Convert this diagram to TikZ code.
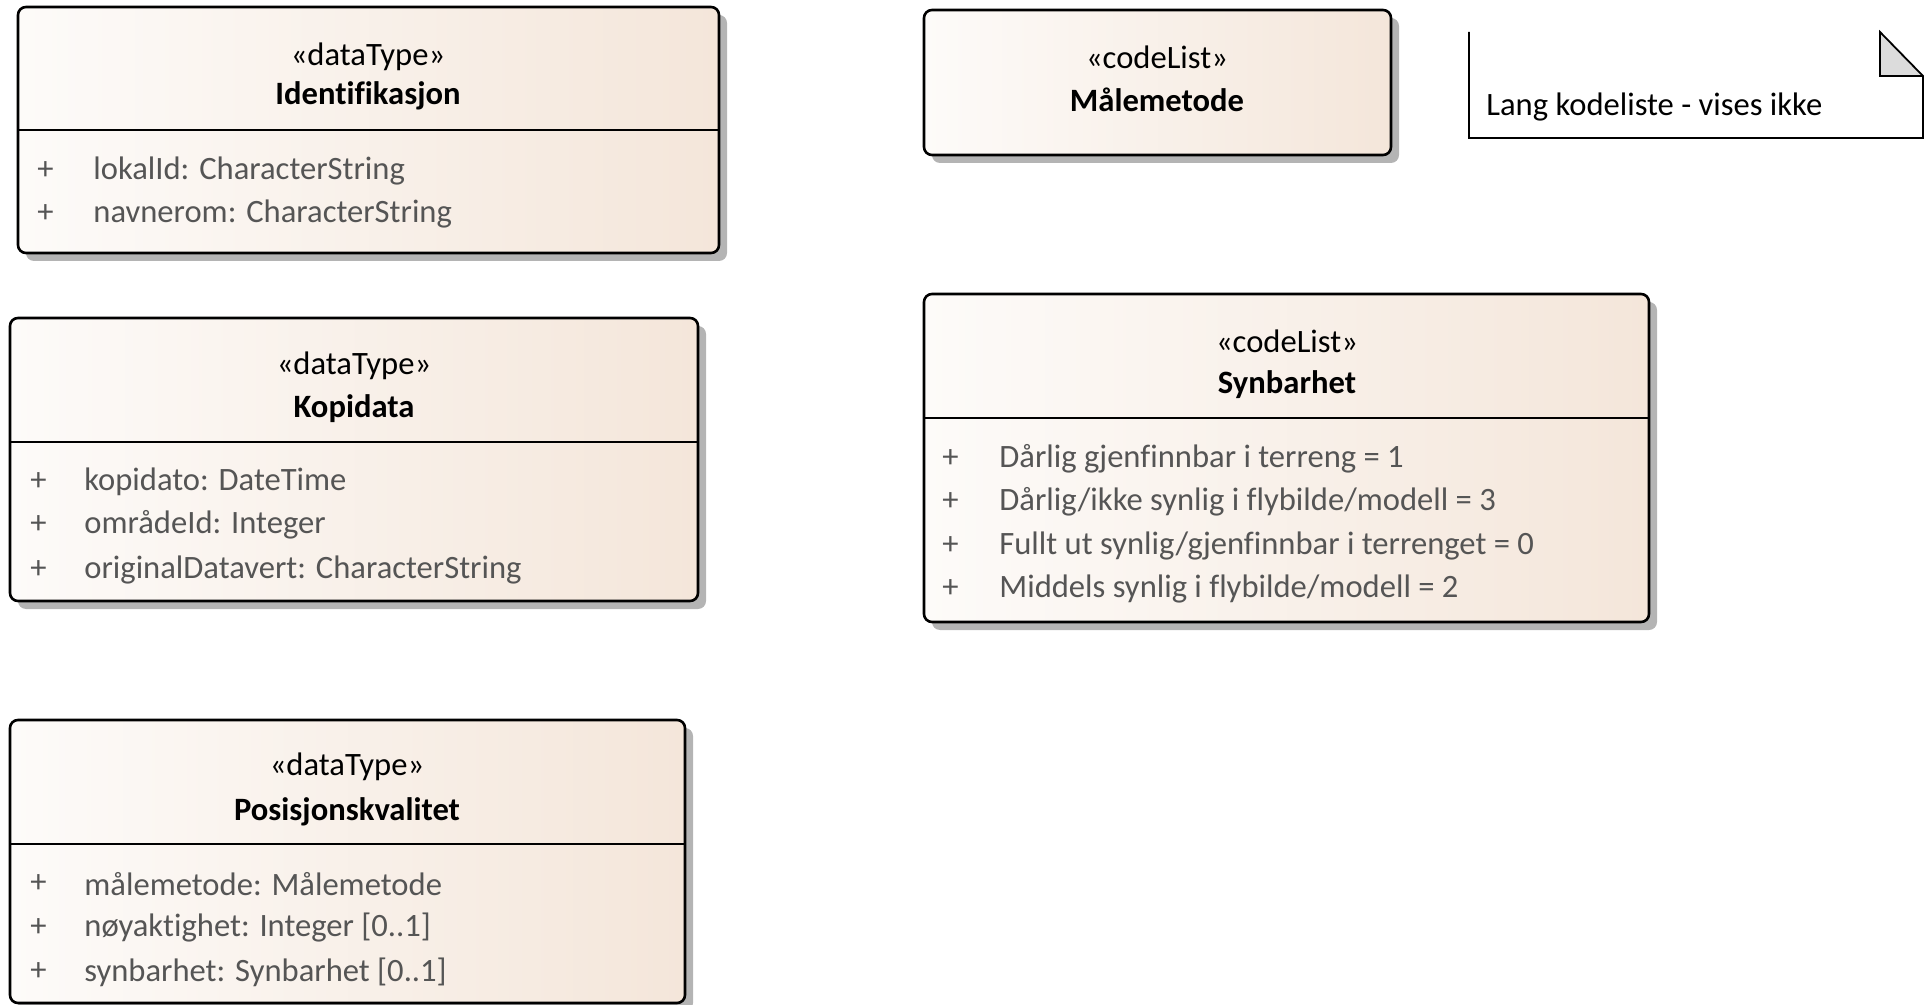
\documentclass[tikz,border=0pt]{standalone}
\usepackage{fontspec}
\setmainfont{Carlito}[Ligatures=CommonOff]
\usetikzlibrary{positioning}
\definecolor{boxleft}{HTML}{FDFBF9}
\definecolor{boxright}{HTML}{F4E6DA}
\definecolor{attrgray}{HTML}{555555}
\definecolor{shadowgray}{HTML}{B4B4B4}
\definecolor{foldgray}{HTML}{DCDCDC}
\tikzset{
	umlbox/.style={draw=black, line width=1.3pt, rounded corners=4pt,
			left color=boxleft, right color=boxright},
	umlshadow/.style={fill=shadowgray, draw=none, rounded corners=4pt},
	divider/.style={draw=black, line width=1.3pt},
	stereo/.style={font=\fontsize{16.3}{19}\selectfont, inner sep=0pt, yshift=-1.5pt},
	classname/.style={font=\fontsize{16.3}{19}\selectfont\bfseries, inner sep=0pt, yshift=-1.5pt},
	attr/.style={anchor=west, font=\fontsize{16.3}{19}\selectfont, text=attrgray, inner sep=0pt, yshift=-1.5pt},
	notebox/.style={draw=black, line width=0.9pt},
}

\begin{document}
\begin{tikzpicture}[x=0.5pt, y=-0.5pt]
		\useasboundingbox (0,0) rectangle (1927,1005);

		% Identifikasjon
		\fill[umlshadow] (26,15) rectangle (727,261);
		\draw[umlbox] (18,7) rectangle (719,253);
		\draw[divider] (18,130) -- (719,130);
		\node[stereo] (identStereo) at (368,54) {«dataType»};
		\node[classname] (identName) at (368,93) {Identifikasjon};
		\node[attr] (identPlusA) at (37,168) {+};
		\node[attr] (identAttrA) at (93,168) {lokalId: CharacterString};
		\node[attr] (identPlusB) at (37,211) {+};
		\node[attr] (identAttrB) at (93,211) {navnerom: CharacterString};

		% Kopidata
		\fill[umlshadow] (18,326) rectangle (706,609);
		\draw[umlbox] (10,318) rectangle (698,601);
		\draw[divider] (10,442) -- (698,442);
		\node[stereo] (kopiStereo) at (354,363) {«dataType»};
		\node[classname] (kopiName) at (354,406) {Kopidata};
		\node[attr] (kopiPlusA) at (30,479) {+};
		\node[attr] (kopiAttrA) at (84,479) {kopidato: DateTime};
		\node[attr] (kopiPlusB) at (30,522) {+};
		\node[attr] (kopiAttrB) at (84,522) {områdeId: Integer};
		\node[attr] (kopiPlusC) at (30,567) {+};
		\node[attr] (kopiAttrC) at (84,567) {originalDatavert: CharacterString};

		% Posisjonskvalitet
		\fill[umlshadow] (18,728) rectangle (693,1011);
		\draw[umlbox] (10,720) rectangle (685,1003);
		\draw[divider] (10,844) -- (685,844);
		\node[stereo] (posStereo) at (347,764) {«dataType»};
		\node[classname] (posName) at (347,809) {Posisjonskvalitet};
		\node[attr] (posPlusA) at (30,881) {+};
		\node[attr] (posAttrA) at (84,881) {målemetode: Målemetode};
		\node[attr] (posPlusB) at (30,925) {+};
		\node[attr] (posAttrB) at (84,925) {nøyaktighet: Integer [0..1]};
		\node[attr] (posPlusC) at (30,969) {+};
		\node[attr] (posAttrC) at (84,969) {synbarhet: Synbarhet [0..1]};

		% Målemetode
		\fill[umlshadow] (932,18) rectangle (1399,163);
		\draw[umlbox] (924,10) rectangle (1391,155);
		\node[stereo] (maleStereo) at (1157,54) {«codeList»};
		\node[classname] (maleName) at (1157,97) {Målemetode};

		% note
		\fill[foldgray] (1880,32) -- (1923,76) -- (1880,76) -- cycle;
		\draw[notebox] (1469,32) -- (1469,138) -- (1923,138) -- (1923,76) -- (1880,32) -- (1880,76) -- (1923,76);
		\node[attr, text=black] (noteText) at (1486,104) {Lang kodeliste - vises ikke};

		% Synbarhet
		\fill[umlshadow] (932,302) rectangle (1657,630);
		\draw[umlbox] (924,294) rectangle (1649,622);
		\draw[divider] (924,418) -- (1649,418);
		\node[stereo] (synStereo) at (1287,338) {«codeList»};
		\node[classname] (synName) at (1287,382) {Synbarhet};
		\node[attr] (synPlusA) at (942,456) {+};
		\node[attr] (synAttrA) at (999,456) {Dårlig gjenfinnbar i terreng = 1};
		\node[attr] (synPlusB) at (942,499) {+};
		\node[attr] (synAttrB) at (999,499) {Dårlig/ikke synlig i flybilde/modell = 3};
		\node[attr] (synPlusC) at (942,543) {+};
		\node[attr] (synAttrC) at (999,543) {Fullt ut synlig/gjenfinnbar i terrenget = 0};
		\node[attr] (synPlusD) at (942,586) {+};
		\node[attr] (synAttrD) at (999,586) {Middels synlig i flybilde/modell = 2};
	\end{tikzpicture}
\end{document}
